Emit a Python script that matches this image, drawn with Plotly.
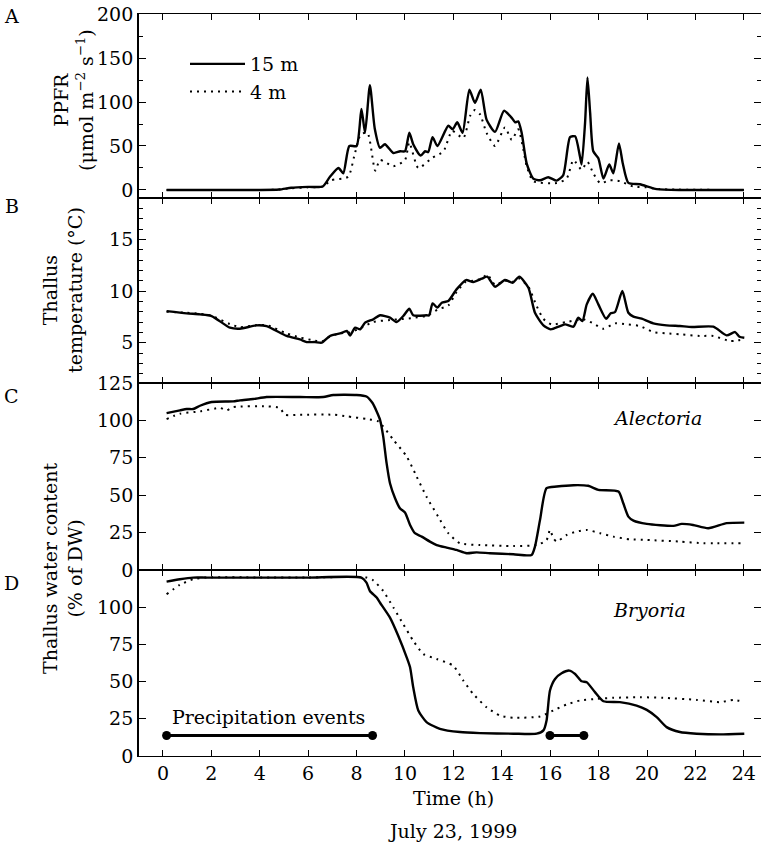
import plotly.graph_objects as go
from plotly.subplots import make_subplots

# ---------------- data ----------------
# Panel A: PPFR (µmol m-2 s-1)
ppfr15_t = [0.15, 2.0, 4.0, 4.8, 5.3, 6.0, 6.6, 6.9, 7.25, 7.45, 7.7, 8.0, 8.2, 8.35, 8.55, 8.75, 8.97, 9.17,
            9.52, 9.8, 10.0, 10.18, 10.34, 10.65, 10.83, 10.96, 11.14, 11.34, 11.79, 11.97, 12.16, 12.38,
            12.66, 12.89, 13.13, 13.37, 13.72, 14.09, 14.41, 14.55, 14.68, 14.82, 15.03, 15.3, 15.58, 15.92,
            16.27, 16.54, 16.82, 17.03, 17.23, 17.3, 17.44, 17.54, 17.65, 17.78, 17.99, 18.2, 18.44, 18.61,
            18.84, 19.0, 19.23, 19.71, 20.4, 21.5, 24.0]
ppfr15_v = [0, 0, 0, 0.5, 2.5, 3.5, 4, 15, 25, 19, 50, 50, 92, 65, 119, 70, 48, 52,
            42, 44, 44, 65, 52, 39, 44, 43, 60, 50, 73, 69, 77, 65,
            114, 99, 114, 80, 66, 90, 82, 77, 78, 65, 30, 13, 11, 14.5,
            10.7, 17, 60, 61, 38, 29, 76, 128, 88, 44, 36, 13, 29, 19,
            53, 30, 8, 6.5, 1, 0, 0]
ppfr4_t = [0.15, 2.0, 4.0, 4.8, 5.3, 6.0, 6.6, 6.95, 7.65, 7.9, 8.17, 8.45, 8.77, 8.97, 9.52, 10.0, 10.18,
           10.55, 11.1, 11.59, 11.95, 12.41, 12.69, 12.89, 13.1, 13.37, 13.72, 14.13, 14.41, 14.68, 14.89,
           15.03, 15.3, 16.27, 16.68, 16.96, 17.3, 17.54, 17.78, 18.06, 18.47, 18.88, 19.43, 19.98, 20.5, 24.0]
ppfr4_v = [0, 0, 0, 0.5, 2, 3, 4, 11, 15, 38, 63, 65, 22, 34, 27, 34, 54,
           25, 36, 44, 67, 59, 84, 91, 86, 65, 50, 71, 57, 69, 46,
           27, 10, 8, 13, 34, 23, 32, 19, 8, 11, 10, 4, 3, 1, 0]

# Panel B: thallus temperature (°C)
temp15_t = [0.15, 0.98, 1.53, 2.01, 2.77, 3.18, 3.87, 4.28, 5.11, 5.66, 5.94, 6.28, 6.56, 6.9, 7.32, 7.6,
            7.73, 7.94, 8.15, 8.35, 8.69, 8.97, 9.38, 9.65, 9.93, 10.18, 10.34, 10.89, 11.0, 11.14, 11.34,
            11.52, 11.79, 12.13, 12.52, 12.82, 13.17, 13.4, 13.72, 14.13, 14.45, 14.72, 15.1, 15.37, 15.72,
            16.02, 16.41, 16.62, 16.96, 17.16, 17.33, 17.51, 17.76, 17.99, 18.31, 18.5, 18.68, 18.98, 19.23,
            19.44, 19.78, 20.26, 20.81, 21.36, 21.85, 22.74, 23.29, 23.64, 23.82, 24.02]
temp15_v = [8.06, 7.84, 7.74, 7.58, 6.45, 6.35, 6.68, 6.6, 5.65, 5.32, 5.06, 5.06, 5.0, 5.65, 5.9, 6.13,
            5.7, 6.45, 6.3, 6.94, 7.26, 7.65, 7.42, 7.0, 7.58, 8.29, 7.65, 7.65, 7.65, 8.8, 8.39,
            8.87, 9.03, 10.16, 11.06, 10.87, 11.19, 11.39, 10.42, 11.06, 10.8, 11.39, 10.32, 7.9, 6.68,
            6.29, 6.61, 6.77, 6.55, 7.42, 7.1, 8.71, 9.74, 8.71, 7.32, 7.84, 7.97, 10.0, 7.9,
            7.52, 7.32, 6.87, 6.68, 6.61, 6.52, 6.55, 5.71, 6.03, 5.58, 5.48]
temp4_t = [0.15, 0.98, 1.53, 2.01, 2.77, 3.18, 3.87, 4.28, 5.11, 5.66, 6.28, 6.56, 6.9, 7.32, 7.73, 8.15,
           8.69, 9.38, 9.93, 10.34, 10.89, 11.34, 11.79, 12.13, 12.52, 12.82, 13.17, 13.4, 13.72, 14.13,
           14.45, 14.72, 15.1, 15.44, 15.72, 16.06, 16.68, 17.37, 17.78, 18.2, 18.68, 19.16, 19.71, 20.26,
           20.81, 21.36, 22.19, 22.74, 23.43, 23.85]
temp4_v = [8.0, 7.9, 7.8, 7.6, 6.8, 6.5, 6.7, 6.7, 5.9, 5.5, 5.2, 5.1, 5.6, 5.9, 6.0, 6.4,
           7.0, 7.2, 7.3, 7.4, 7.6, 8.2, 8.6, 9.9, 10.9, 11.0, 11.2, 11.6, 10.6, 11.0,
           10.9, 11.2, 10.4, 8.55, 7.3, 6.77, 7.0, 7.26, 6.87, 6.35, 6.87, 6.77, 6.61, 6.03,
           5.9, 5.81, 5.65, 5.65, 5.16, 5.26]

# Panel C: Alectoria water content (% of DW)
alec15_t = [0.15, 0.7, 0.98, 1.25, 1.53, 2.01, 2.9, 3.18, 3.73, 4.28, 5.66, 6.62, 7.04, 8.0, 8.41, 8.66,
            8.83, 8.97, 9.1, 9.24, 9.38, 9.59, 9.79, 10.0, 10.21, 10.41, 10.69, 11.03, 11.31, 11.72, 12.13,
            12.55, 12.96, 13.51, 14.48, 15.23, 15.37, 15.58, 15.85, 16.27, 16.96, 17.57, 17.99, 18.82,
            19.02, 19.23, 19.44, 19.99, 21.09, 21.43, 21.9, 22.53, 23.29, 24.02]
alec15_v = [104.9, 106.7, 107.6, 107.6, 109.8, 112.3, 112.7, 113.4, 114.3, 115.6, 115.6, 115.6, 117, 117, 116, 111.6,
            106, 100.4, 89.3, 71.4, 58, 48, 41.3, 38.4, 30.1, 24.6, 22.3, 19, 16.7, 15, 13.4,
            11.2, 11.8, 11.2, 10.5, 10.0, 15.6, 33.5, 54.7, 55.8, 56.7, 56.3, 53.6, 52.5,
            44.6, 35.7, 33, 30.8, 29.5, 30.8, 30.1, 27.9, 31.3, 31.7]
alec4_t = [0.15, 0.7, 1.53, 2.36, 2.63, 2.9, 4.28, 4.83, 5.04, 5.66, 7.04, 7.6, 8.41, 8.9, 9.52, 10.07,
           10.48, 10.89, 11.37, 11.79, 12.27, 13.1, 14.48, 15.44, 15.85, 15.99, 16.13, 16.27, 16.68, 17.09,
           17.51, 18.06, 18.61, 19.3, 19.99, 21.36, 22.33, 22.74, 23.92]
alec4_v = [100.9, 104.5, 106, 108.3, 106.7, 108.9, 109.4, 108.3, 103.8, 103.8, 103.8, 102.7, 100.9, 99.3, 87, 75.9,
           62.5, 49, 35.7, 24.6, 17.9, 16.7, 16, 16.7, 20, 26.8, 21.2, 19, 23.4, 25.7,
           26.8, 24.6, 22.3, 20.5, 20.1, 19, 17.9, 17.9, 17.9]

# Panel D: Bryoria water content (% of DW)
bryo15_t = [0.15, 0.7, 1.25, 1.8, 4.0, 6.0, 8.2, 8.41, 8.55, 8.83, 8.97, 9.38, 9.72, 10.07, 10.21, 10.34,
            10.55, 10.89, 11.44, 12.27, 13.1, 14.48, 15.44, 15.72, 15.85, 15.99, 16.2, 16.47, 16.79, 17.03,
            17.3, 17.51, 17.85, 18.2, 18.88, 19.57, 19.99, 20.4, 20.81, 21.36, 22.05, 23.02, 24.02]
bryo15_v = [117.2, 118.8, 119.9, 119.9, 119.9, 119.9, 119.9, 116.5, 110.9, 106.5, 103, 93, 80.8, 66.3, 59.6, 46.2,
            30.6, 22.8, 18.3, 16.1, 15.4, 15, 15, 17.2, 23.9, 44, 51.8, 55.6, 57.4, 55.1,
            50.2, 49.6, 42.9, 36.8, 36.2, 33.9, 31, 26.1, 19.4, 16.1, 15, 14.5, 15]
bryo4_t = [0.15, 0.7, 1.25, 1.8, 4.0, 6.0, 8.41, 8.69, 9.1, 9.52, 9.93, 10.34, 10.76, 11.31, 11.99, 12.41,
           12.82, 13.37, 13.92, 14.48, 15.58, 16.13, 16.68, 17.23, 17.92, 18.61, 19.71, 20.67, 22.05, 23.02,
           23.57, 23.92]
bryo4_v = [108.7, 115, 118.8, 120, 120, 120, 119.9, 118, 110.9, 99.8, 88.6, 77.5, 68.5, 65.2, 60.7, 50.7,
           41.7, 32.8, 27.2, 25.7, 26.6, 30.6, 34.6, 37.3, 38.4, 39.1, 39.5, 39.1, 37.7, 36.2,
           37.7, 36.8]

# Precipitation events (start, end in h) and level on panel D
precip_start = [0.15, 15.99]
precip_end = [8.66, 17.39]
precip_level = 13.8

x_ticks = list(range(0, 25, 2))

# ---------------- figure ----------------
FONT = "DejaVu Serif"
FS = 19
SOLID = dict(color="black", width=2.4, shape="spline", smoothing=0.6)
DOT = dict(color="black", width=2, dash="2px,5px", shape="spline", smoothing=0.6)

fig = make_subplots(rows=4, cols=1, shared_xaxes=True, vertical_spacing=0)

fig.add_trace(go.Scatter(x=ppfr15_t, y=ppfr15_v, mode="lines", line=SOLID, name="15 m"), row=1, col=1)
fig.add_trace(go.Scatter(x=ppfr4_t, y=ppfr4_v, mode="lines", line=DOT, name="4 m"), row=1, col=1)
fig.add_trace(go.Scatter(x=temp15_t, y=temp15_v, mode="lines", line=SOLID, showlegend=False), row=2, col=1)
fig.add_trace(go.Scatter(x=temp4_t, y=temp4_v, mode="lines", line=DOT, showlegend=False), row=2, col=1)
fig.add_trace(go.Scatter(x=alec15_t, y=alec15_v, mode="lines", line=SOLID, showlegend=False), row=3, col=1)
fig.add_trace(go.Scatter(x=alec4_t, y=alec4_v, mode="lines", line=DOT, showlegend=False), row=3, col=1)
fig.add_trace(go.Scatter(x=bryo15_t, y=bryo15_v, mode="lines", line=SOLID, showlegend=False), row=4, col=1)
fig.add_trace(go.Scatter(x=bryo4_t, y=bryo4_v, mode="lines", line=DOT, showlegend=False), row=4, col=1)

for s, e in zip(precip_start, precip_end):
    fig.add_trace(go.Scatter(x=[s, e], y=[precip_level, precip_level], mode="lines+markers",
                             line=dict(color="black", width=3), marker=dict(color="black", size=9),
                             showlegend=False), row=4, col=1)

W, H = 761, 851
def py(p):
    return 1 - p / H

x_left = 139 / W
domains = [
    [py(198), py(14)],
    [py(383), py(198)],
    [py(570), py(383)],
    [py(756), py(570)],
]
yranges = [[-9.1, 200], [1.1, 19.0], [0, 125], [0, 125]]
ytickvals = [[0, 50, 100, 150, 200], [5, 10, 15], [0, 25, 50, 75, 100, 125], [0, 25, 50, 75, 100]]
minor_dtick = [25, 1, None, None]

axis_common = dict(showline=True, linecolor="black", mirror="ticks", ticks="inside",
                   tickcolor="black", tickwidth=1.3, showgrid=False, zeroline=False, automargin=False,
                   tickfont=dict(family=FONT, size=FS, color="black"))

for i in range(4):
    xa = "xaxis" if i == 0 else f"xaxis{i+1}"
    ya = "yaxis" if i == 0 else f"yaxis{i+1}"
    fig.layout[xa].update(domain=[x_left, 1.0], range=[-0.99, 24.71], tickvals=x_ticks,
                          ticklen=6, linewidth=1.1, showticklabels=(i == 3), **axis_common)
    yd = dict(domain=domains[i], range=yranges[i], tickvals=ytickvals[i], ticklen=7, linewidth=1.8,
              **axis_common)
    if minor_dtick[i]:
        yd["minor"] = dict(ticks="inside", dtick=minor_dtick[i], ticklen=4, tickcolor="black", tickwidth=1.2,
                           showgrid=False)
    fig.layout[ya].update(**yd)

ann = []
def A(text, x, y, xref="paper", yref="paper", **kw):
    d = dict(text=text, x=x, y=y, xref=xref, yref=yref, showarrow=False,
             font=dict(family=FONT, size=FS, color="black"))
    d.update(kw)
    ann.append(d)

# panel letters
for letter, p in zip("ABCD", [16, 206, 396, 583]):
    A(letter, 12 / W, py(p), xanchor="center", yanchor="middle")

# y titles
A("PPFR<br>(μmol m<sup>−2</sup> s<sup>−1</sup>)", 74 / W, py(100), textangle=-90,
  xanchor="center", yanchor="middle")
A("Thallus<br>temperature (°C)", 62 / W, py(290), textangle=-90, xanchor="center", yanchor="middle")
A("Thallus water content<br>(% of DW)", 62 / W, py(568), textangle=-90, xanchor="center", yanchor="middle")

# species
A("<i>Alectoria</i>", 20.45, 101.7, xref="x3", yref="y3", xanchor="center", yanchor="middle")
A("<i>Bryoria</i>", 20.1, 98, xref="x4", yref="y4", xanchor="center", yanchor="middle")
A("Precipitation events", 4.34, 26, xref="x4", yref="y4", xanchor="center", yanchor="middle")

# x title and date
A("Time (h)", 453 / W, py(798), xanchor="center", yanchor="middle")
A("July 23, 1999", 452 / W, py(831), xanchor="center", yanchor="middle")

fig.update_layout(
    template="none",
    width=W, height=H, margin=dict(l=0, r=0, t=0, b=0, autoexpand=False),
    paper_bgcolor="white", plot_bgcolor="white",
    font=dict(family=FONT, size=FS, color="black"),
    annotations=ann,
    showlegend=True,
    legend=dict(x=185 / W, y=py(45), xanchor="left", yanchor="top", itemwidth=55,
                bgcolor="rgba(0,0,0,0)", font=dict(family=FONT, size=FS, color="black"),
                tracegroupgap=0),
)

fig.write_html("out.html")
